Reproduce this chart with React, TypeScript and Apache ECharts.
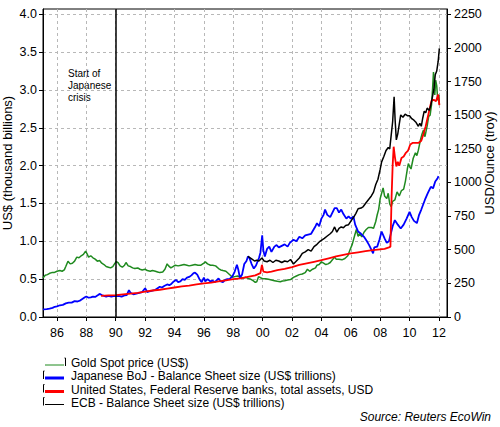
import React, { useEffect, useRef } from "react";
import * as echarts from "echarts";

// Tick positions
const yearTicks = [1986, 1988, 1990, 1992, 1994, 1996, 1998, 2000, 2002, 2004, 2006, 2008, 2010, 2012];
const leftTicks = [0, 0.5, 1, 1.5, 2, 2.5, 3, 3.5, 4];
const rightTicks = [0, 250, 500, 750, 1000, 1250, 1500, 1750, 2000, 2250];

// Gold spot price, USD per troy ounce
const goldPrice: [number, number][] = [
  [1985.05, 290], [1985.2, 310], [1985.35, 315], [1985.5, 325], [1985.65, 330], [1985.8, 330],
  [1986.0, 340], [1986.2, 345], [1986.35, 340], [1986.5, 350], [1986.6, 375], [1986.75, 415],
  [1986.9, 395], [1987.05, 400], [1987.2, 415], [1987.35, 445], [1987.5, 440], [1987.65, 455],
  [1987.8, 465], [1987.95, 490], [1988.05, 470], [1988.15, 445], [1988.3, 455], [1988.45, 440],
  [1988.6, 430], [1988.75, 415], [1988.9, 420], [1989.05, 400], [1989.2, 390], [1989.35, 375],
  [1989.5, 370], [1989.65, 365], [1989.8, 375], [1989.95, 400], [1990.05, 412], [1990.15, 405],
  [1990.3, 380], [1990.45, 370], [1990.6, 385], [1990.7, 405], [1990.85, 380], [1991.0, 375],
  [1991.15, 365], [1991.3, 360], [1991.5, 365], [1991.65, 355], [1991.8, 350], [1992.0, 355],
  [1992.15, 345], [1992.35, 340], [1992.5, 345], [1992.7, 340], [1992.85, 335], [1993.0, 330],
  [1993.2, 335], [1993.35, 355], [1993.5, 395], [1993.6, 380], [1993.75, 365], [1993.9, 375],
  [1994.05, 385], [1994.25, 380], [1994.45, 385], [1994.65, 390], [1994.85, 385], [1995.0, 380],
  [1995.2, 385], [1995.4, 390], [1995.6, 385], [1995.8, 385], [1996.0, 400], [1996.1, 410],
  [1996.25, 395], [1996.45, 385], [1996.6, 385], [1996.8, 380], [1997.0, 360], [1997.15, 350],
  [1997.3, 345], [1997.5, 340], [1997.65, 325], [1997.8, 310], [1997.95, 295], [1998.1, 300],
  [1998.3, 305], [1998.5, 295], [1998.7, 290], [1998.85, 295], [1999.0, 287], [1999.2, 280],
  [1999.35, 270], [1999.5, 258], [1999.6, 262], [1999.72, 300], [1999.85, 292], [2000.0, 285],
  [2000.2, 285], [2000.4, 280], [2000.6, 275], [2000.8, 270], [2001.0, 265], [2001.2, 262],
  [2001.35, 268], [2001.5, 270], [2001.7, 275], [2001.9, 278], [2002.1, 295], [2002.3, 305],
  [2002.5, 315], [2002.7, 320], [2002.9, 330], [2003.05, 355], [2003.2, 340], [2003.4, 355],
  [2003.6, 365], [2003.7, 385], [2003.85, 390], [2004.0, 410], [2004.15, 400], [2004.3, 390],
  [2004.45, 395], [2004.6, 405], [2004.75, 425], [2004.9, 445], [2005.0, 430], [2005.2, 430],
  [2005.4, 425], [2005.6, 435], [2005.8, 455], [2005.95, 500], [2006.1, 540], [2006.25, 600],
  [2006.38, 650], [2006.5, 600], [2006.6, 620], [2006.75, 595], [2006.9, 630], [2007.05, 650],
  [2007.2, 665], [2007.4, 665], [2007.55, 660], [2007.7, 710], [2007.8, 760], [2007.9, 800],
  [2008.0, 880], [2008.1, 920], [2008.2, 960], [2008.3, 900], [2008.45, 880], [2008.55, 920],
  [2008.65, 840], [2008.75, 820], [2008.85, 860], [2009.0, 870], [2009.15, 930], [2009.3, 900],
  [2009.45, 940], [2009.6, 950], [2009.72, 1010], [2009.85, 1100], [2009.92, 1140], [2010.0, 1120],
  [2010.1, 1100], [2010.25, 1180], [2010.4, 1220], [2010.5, 1200], [2010.6, 1240], [2010.75, 1320],
  [2010.85, 1360], [2010.95, 1390], [2011.05, 1340], [2011.2, 1420], [2011.3, 1490], [2011.4, 1500],
  [2011.5, 1580], [2011.57, 1700], [2011.63, 1820], [2011.68, 1760], [2011.72, 1650], [2011.78, 1760],
  [2011.85, 1720], [2011.92, 1610], [2012.0, 1650], [2012.03, 1580],
];

// Bank of Japan balance sheet, US$ trillions
const bojAssets: [number, number][] = [
  [1985.05, 0.1], [1985.3, 0.105], [1985.5, 0.11], [1985.7, 0.12], [1985.85, 0.135], [1986.0, 0.14],
  [1986.2, 0.155], [1986.4, 0.16], [1986.6, 0.18], [1986.8, 0.19], [1987.0, 0.19], [1987.2, 0.21],
  [1987.4, 0.205], [1987.6, 0.22], [1987.75, 0.24], [1987.9, 0.26], [1988.0, 0.27], [1988.15, 0.255],
  [1988.3, 0.26], [1988.45, 0.27], [1988.6, 0.265], [1988.8, 0.29], [1988.9, 0.305], [1989.05, 0.29],
  [1989.2, 0.28], [1989.35, 0.27], [1989.5, 0.28], [1989.7, 0.27], [1989.85, 0.275], [1990.0, 0.275],
  [1990.2, 0.28], [1990.4, 0.27], [1990.6, 0.285], [1990.75, 0.29], [1990.9, 0.355], [1991.0, 0.32],
  [1991.2, 0.3], [1991.4, 0.31], [1991.6, 0.32], [1991.8, 0.33], [1992.0, 0.38], [1992.15, 0.33],
  [1992.3, 0.34], [1992.5, 0.35], [1992.7, 0.36], [1992.85, 0.38], [1993.0, 0.4], [1993.15, 0.39],
  [1993.3, 0.41], [1993.5, 0.43], [1993.65, 0.42], [1993.8, 0.44], [1993.95, 0.47], [1994.1, 0.49],
  [1994.25, 0.46], [1994.4, 0.47], [1994.55, 0.5], [1994.7, 0.49], [1994.85, 0.52], [1995.0, 0.53],
  [1995.15, 0.55], [1995.3, 0.58], [1995.4, 0.585], [1995.55, 0.56], [1995.7, 0.5], [1995.85, 0.46],
  [1996.0, 0.52], [1996.1, 0.47], [1996.25, 0.5], [1996.45, 0.47], [1996.6, 0.48], [1996.75, 0.46],
  [1996.9, 0.49], [1997.0, 0.51], [1997.15, 0.47], [1997.3, 0.46], [1997.45, 0.49], [1997.6, 0.5],
  [1997.75, 0.5], [1997.95, 0.54], [1998.1, 0.6], [1998.25, 0.69], [1998.35, 0.62], [1998.45, 0.52],
  [1998.6, 0.56], [1998.75, 0.7], [1998.9, 0.74], [1999.0, 0.8], [1999.1, 0.78], [1999.25, 0.7],
  [1999.4, 0.64], [1999.55, 0.68], [1999.75, 0.78], [1999.85, 0.85], [1999.97, 1.08], [2000.05, 0.88],
  [2000.15, 0.8], [2000.3, 0.9], [2000.45, 0.93], [2000.6, 0.86], [2000.8, 0.93], [2000.95, 0.95],
  [2001.1, 0.92], [2001.3, 0.94], [2001.5, 0.96], [2001.7, 0.93], [2001.85, 0.98], [2002.1, 1.02],
  [2002.3, 1.0], [2002.5, 1.06], [2002.7, 1.04], [2002.9, 1.08], [2003.1, 1.09], [2003.3, 1.1],
  [2003.45, 1.15], [2003.6, 1.2], [2003.7, 1.24], [2003.85, 1.2], [2004.0, 1.3], [2004.15, 1.35],
  [2004.25, 1.42], [2004.4, 1.35], [2004.6, 1.32], [2004.75, 1.38], [2004.9, 1.44], [2005.05, 1.44],
  [2005.2, 1.38], [2005.35, 1.42], [2005.5, 1.36], [2005.7, 1.3], [2005.85, 1.33], [2006.0, 1.3],
  [2006.18, 1.33], [2006.3, 1.22], [2006.5, 1.13], [2006.7, 1.1], [2006.9, 1.06], [2007.1, 1.0],
  [2007.25, 0.95], [2007.4, 0.89], [2007.52, 0.84], [2007.6, 0.92], [2007.8, 0.93], [2007.95, 1.02],
  [2008.1, 1.13], [2008.3, 1.04], [2008.45, 0.98], [2008.6, 1.0], [2008.75, 1.12], [2008.85, 1.2],
  [2009.0, 1.28], [2009.2, 1.22], [2009.4, 1.17], [2009.6, 1.22], [2009.8, 1.3], [2010.0, 1.39],
  [2010.15, 1.32], [2010.3, 1.27], [2010.5, 1.24], [2010.65, 1.35], [2010.8, 1.42], [2011.05, 1.55],
  [2011.25, 1.64], [2011.45, 1.72], [2011.6, 1.7], [2011.75, 1.79], [2011.9, 1.83], [2011.97, 1.86],
];

// Federal Reserve banks, total assets, US$ trillions
const fedAssets: [number, number][] = [
  [1989.0, 0.28], [1989.5, 0.285], [1990.0, 0.29], [1990.5, 0.3], [1991.0, 0.31], [1991.5, 0.32],
  [1992.0, 0.335], [1992.5, 0.35], [1993.0, 0.36], [1993.5, 0.375], [1994.0, 0.39], [1994.5, 0.405],
  [1995.0, 0.415], [1995.5, 0.43], [1996.0, 0.445], [1996.5, 0.455], [1997.0, 0.47], [1997.5, 0.485],
  [1998.0, 0.5], [1998.5, 0.51], [1999.0, 0.53], [1999.5, 0.55], [1999.85, 0.58], [1999.95, 0.69],
  [2000.05, 0.6], [2000.3, 0.59], [2000.6, 0.6], [2001.0, 0.62], [2001.5, 0.635], [2002.0, 0.66],
  [2002.5, 0.69], [2003.0, 0.71], [2003.5, 0.73], [2004.0, 0.75], [2004.5, 0.775], [2005.0, 0.8],
  [2005.5, 0.82], [2006.0, 0.84], [2006.5, 0.855], [2007.0, 0.87], [2007.5, 0.885], [2008.0, 0.895],
  [2008.3, 0.9], [2008.6, 0.92], [2008.7, 0.93], [2008.78, 1.6], [2008.85, 2.0], [2008.92, 2.25],
  [2009.0, 2.12], [2009.1, 1.99], [2009.2, 2.05], [2009.3, 2.0], [2009.45, 2.1], [2009.6, 2.12],
  [2009.75, 2.17], [2009.9, 2.2], [2010.05, 2.28], [2010.2, 2.3], [2010.4, 2.3], [2010.6, 2.3],
  [2010.8, 2.33], [2010.95, 2.42], [2011.1, 2.52], [2011.25, 2.65], [2011.4, 2.78], [2011.5, 2.86],
  [2011.65, 2.87], [2011.8, 2.85], [2011.95, 2.94], [2012.03, 2.8],
];

// ECB balance sheet, US$ trillions
const ecbAssets: [number, number][] = [
  [1999.0, 0.8], [1999.15, 0.78], [1999.3, 0.76], [1999.45, 0.74], [1999.6, 0.75], [1999.75, 0.74],
  [1999.95, 0.78], [2000.1, 0.74], [2000.3, 0.73], [2000.5, 0.75], [2000.7, 0.72], [2000.9, 0.75],
  [2001.1, 0.74], [2001.3, 0.72], [2001.5, 0.74], [2001.7, 0.73], [2001.9, 0.76], [2002.1, 0.7],
  [2002.3, 0.74], [2002.5, 0.78], [2002.7, 0.84], [2002.9, 0.86], [2003.1, 0.89], [2003.3, 0.87],
  [2003.5, 0.93], [2003.7, 0.96], [2003.9, 1.0], [2004.05, 1.02], [2004.2, 1.04], [2004.4, 1.07],
  [2004.6, 1.1], [2004.75, 1.13], [2004.9, 1.19], [2005.05, 1.12], [2005.2, 1.17], [2005.35, 1.19],
  [2005.5, 1.18], [2005.65, 1.21], [2005.85, 1.22], [2006.05, 1.28], [2006.2, 1.32], [2006.35, 1.37],
  [2006.5, 1.43], [2006.7, 1.44], [2006.85, 1.46], [2007.0, 1.5], [2007.2, 1.55], [2007.4, 1.6],
  [2007.55, 1.65], [2007.7, 1.75], [2007.85, 1.82], [2008.0, 1.95], [2008.1, 2.05], [2008.25, 2.12],
  [2008.4, 2.2], [2008.55, 2.24], [2008.65, 2.22], [2008.75, 2.4], [2008.85, 2.58], [2008.95, 2.91],
  [2009.02, 2.6], [2009.1, 2.34], [2009.2, 2.42], [2009.3, 2.55], [2009.4, 2.67], [2009.55, 2.64],
  [2009.7, 2.68], [2009.85, 2.66], [2010.0, 2.66], [2010.15, 2.62], [2010.3, 2.6], [2010.45, 2.57],
  [2010.6, 2.52], [2010.7, 2.56], [2010.8, 2.52], [2010.9, 2.63], [2011.0, 2.72], [2011.1, 2.7],
  [2011.2, 2.76], [2011.35, 2.73], [2011.45, 2.8], [2011.55, 2.9], [2011.65, 3.0], [2011.75, 3.2],
  [2011.85, 3.25], [2011.95, 3.38], [2012.03, 3.55],
];

const seriesNames = [
  "Gold Spot price (US$)",
  "Japanese BoJ - Balance Sheet size (US$ trillions)",
  "United States, Federal Reserve banks, total assets, USD",
  "ECB - Balance Sheet size (US$ trillions)",
];
const seriesColors = ["#1f8a1f", "#0000ff", "#ff0000", "#000000"];
const seriesWidths = [1.5, 1.8, 1.8, 1.5];
const crisisYear = 1990;

const FONT = "'Liberation Sans', Arial, sans-serif";
const LEFT_MAX = 4.07;
const RIGHT_MAX = LEFT_MAX * 562.5;

function legendGraphics() {
  const rows = [363, 376, 389.5, 402.5];
  const items: any[] = [];
  rows.forEach((cy, i) => {
    const thick = i === 1 || i === 2;
    const ly = cy + 2;
    items.push({
      type: "line",
      shape: { x1: 45, y1: ly, x2: 64, y2: ly },
      style: { stroke: seriesColors[i], lineWidth: thick ? 3 : 1 },
    });
    // small bracket mark beside the sample line
    const bx = i === 0 ? 65.5 : 43.5;
    items.push({
      type: "polyline",
      shape: {
        points:
          i === 0
            ? [[bx - 1, cy - 5], [bx, cy - 5], [bx, cy + 3]]
            : [[bx + 1, cy - 5], [bx, cy - 5], [bx, cy + 3]],
      },
      style: { stroke: "#000", lineWidth: 1, fill: "none" },
    });
    items.push({
      type: "text",
      x: 71,
      y: cy,
      style: {
        text: seriesNames[i],
        fontFamily: FONT,
        fontSize: 12,
        fill: "#000",
        verticalAlign: "middle",
        align: "left",
      },
    });
  });
  return items;
}

export default function App() {
  const ref = useRef<HTMLDivElement>(null);

  useEffect(() => {
    if (!ref.current) return;
    const chart = echarts.init(ref.current, undefined, { renderer: "svg" });
    const dashed = { color: "#b8b8b8", type: [3, 3] as number[], width: 1 };
    const dataSets = [goldPrice, bojAssets, fedAssets, ecbAssets];

    chart.setOption({
      animation: false,
      backgroundColor: "#ffffff",
      textStyle: { fontFamily: FONT },
      grid: {
        left: 43,
        right: 53,
        top: 9,
        bottom: 110,
        show: true,
        borderColor: "#000",
        borderWidth: 1,
        containLabel: false,
        outerBoundsMode: "none",
      },
      xAxis: {
        type: "value",
        min: 1985.05,
        max: 2012.55,
        axisLine: { show: true, onZero: false, lineStyle: { color: "#000", width: 1 } },
        axisTick: { show: true, customValues: yearTicks, length: 4, lineStyle: { color: "#000" } },
        axisLabel: {
          customValues: yearTicks,
          formatter: (v: number) => String(Math.round(v) % 100).padStart(2, "0"),
          color: "#000",
          fontFamily: FONT,
          fontSize: 12.5,
          margin: 9,
        },
        splitLine: { show: true, lineStyle: dashed },
      },
      yAxis: [
        {
          type: "value",
          position: "left",
          min: 0,
          max: LEFT_MAX,
          name: "US$ (thousand billions)",
          nameLocation: "middle",
          nameGap: 29,
          nameMoveOverlap: false,
          nameTextStyle: { color: "#000", fontFamily: FONT, fontSize: 13 },
          axisLine: { show: true, lineStyle: { color: "#000" } },
          axisTick: { show: true, customValues: leftTicks, length: 4, lineStyle: { color: "#000" } },
          axisLabel: {
            customValues: leftTicks,
            formatter: (v: number) => v.toFixed(1),
            color: "#000",
            fontFamily: FONT,
            fontSize: 12.5,
            margin: 6,
          },
          splitLine: { show: true, lineStyle: dashed },
        },
        {
          type: "value",
          position: "right",
          min: 0,
          max: RIGHT_MAX,
          name: "USD/Ounce (troy)",
          nameLocation: "middle",
          nameGap: 36,
          nameMoveOverlap: false,
          nameTextStyle: { color: "#000", fontFamily: FONT, fontSize: 13 },
          axisLine: { show: true, lineStyle: { color: "#000" } },
          axisTick: { show: true, customValues: rightTicks, length: 4, lineStyle: { color: "#000" } },
          axisLabel: {
            customValues: rightTicks,
            formatter: (v: number) => String(v),
            color: "#000",
            fontFamily: FONT,
            fontSize: 12.5,
            margin: 7,
          },
          splitLine: { show: false },
        },
      ],
      series: seriesNames.map((name, i) => ({
        name,
        type: "line",
        yAxisIndex: i === 0 ? 1 : 0,
        data: dataSets[i],
        showSymbol: false,
        symbol: "none",
        z: 2 + i,
        lineStyle: { color: seriesColors[i], width: seriesWidths[i] },
        itemStyle: { color: seriesColors[i] },
        markLine:
          i === 0
            ? {
                silent: true,
                symbol: ["none", "none"],
                label: { show: false },
                lineStyle: { color: "#000", width: 1.5, type: "solid" },
                data: [{ xAxis: crisisYear }],
              }
            : undefined,
      })),
      graphic: [
        {
          type: "text",
          x: 68,
          y: 67,
          style: {
            text: "Start of\nJapanese\ncrisis",
            fontFamily: FONT,
            fontSize: 10,
            lineHeight: 12,
            fill: "#000",
          },
        },
        ...legendGraphics(),
        {
          type: "text",
          x: 491,
          y: 417,
          style: {
            text: "Source: Reuters EcoWin",
            fontFamily: FONT,
            fontSize: 12,
            fontStyle: "italic",
            fill: "#000",
            align: "right",
            verticalAlign: "middle",
          },
        },
      ],
    });

    return () => chart.dispose();
  }, []);

  return (
    <div
      ref={ref}
      style={{ position: "absolute", left: 0, top: 0, width: 500, height: 427, background: "#fff" }}
    />
  );
}
